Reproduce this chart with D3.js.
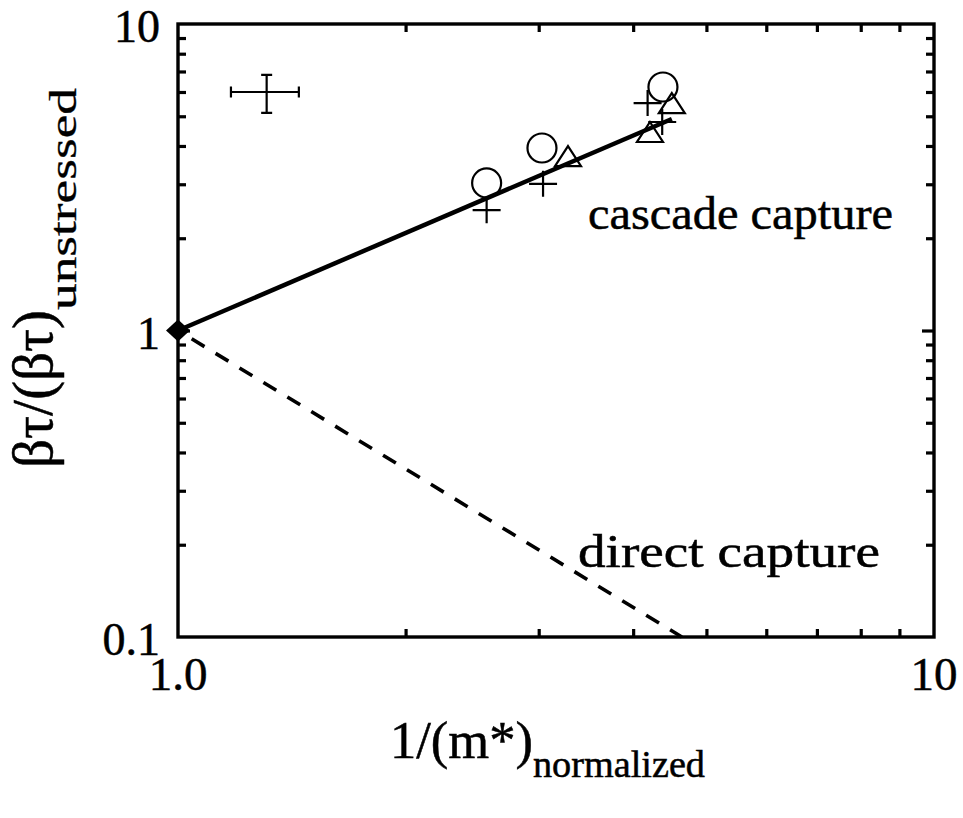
<!DOCTYPE html>
<html>
<head>
<meta charset="utf-8">
<script src="https://cdn.jsdelivr.net/npm/d3@7"></script>
<style>
  html, body { margin: 0; padding: 0; background: #fff; }
  svg { display: block; }
  text { font-family: "Liberation Serif", "Times New Roman", serif; fill: #000; stroke: #000; stroke-width: 0.5; }
</style>
</head>
<body>
<svg id="chart" width="963" height="818"></svg>
<script>
// Measured capture-rate ratios vs. inverse normalized effective mass
const circleX = [2.56, 3.03, 4.38];
const circleY = [3.03, 3.94, 6.23];
const plusX = [2.56, 3.04, 4.18, 4.37];
const plusY = [2.47, 3.01, 5.52, 4.79];
const triX = [3.28, 4.21, 4.50];
const triY = [3.68, 4.41, 5.48];

// Unstressed reference point
const refX = [1.0];
const refY = [1.0];

// Model lines
const cascadeX = [1.0, 4.5];
const cascadeY = [1.0, 4.9];
const directX = [1.0, 4.64];
const directY = [1.0, 0.1];

// Typical uncertainty
const errX = [1.31], errXLo = [1.175], errXHi = [1.445];
const errY = [6.0], errYLo = [5.13], errYHi = [6.82];

// Axes
const xDomain = [1, 10];
const yDomain = [0.1, 10];
const xTickValues = [1, 10];
const xTickLabels = ["1.0", "10"];
const yTickValues = [0.1, 1, 10];
const yTickLabels = ["0.1", "1", "10"];
const xMinor = [2, 3, 4, 5, 6, 7, 8, 9];
const yMinor = [0.2, 0.3, 0.4, 0.5, 0.6, 0.7, 0.8, 0.9, 2, 3, 4, 5, 6, 7, 8, 9];

const margin = { left: 178, top: 24 };
const W = 756, H = 613;

const svg = d3.select("#chart");
const g = svg.append("g").attr("transform", `translate(${margin.left},${margin.top})`);

const x = d3.scaleLog().domain(xDomain).range([0, W]);
const y = d3.scaleLog().domain(yDomain).range([H, 0]);

// Inward ticks on all four sides
const minorLen = 8, majorLen = 12;
const axisStyle = sel => {
  sel.select(".domain").remove();
  sel.selectAll(".tick line").attr("stroke", "#000").attr("stroke-width", 3.2);
  sel.selectAll(".tick text").remove();
};
g.append("g").attr("transform", `translate(0,${H})`)
  .call(d3.axisBottom(x).tickValues(xMinor).tickSizeInner(-minorLen).tickSizeOuter(0)).call(axisStyle);
g.append("g")
  .call(d3.axisTop(x).tickValues(xMinor).tickSizeInner(-minorLen).tickSizeOuter(0)).call(axisStyle);
g.append("g")
  .call(d3.axisLeft(y).tickValues(yMinor).tickSizeInner(-minorLen).tickSizeOuter(0)).call(axisStyle);
g.append("g").attr("transform", `translate(${W},0)`)
  .call(d3.axisRight(y).tickValues(yMinor).tickSizeInner(-minorLen).tickSizeOuter(0)).call(axisStyle);
g.append("g")
  .call(d3.axisLeft(y).tickValues([1]).tickSizeInner(-majorLen).tickSizeOuter(0)).call(axisStyle);
g.append("g").attr("transform", `translate(${W},0)`)
  .call(d3.axisRight(y).tickValues([1]).tickSizeInner(-majorLen).tickSizeOuter(0)).call(axisStyle);

// Frame
g.append("rect").attr("x", 0).attr("y", 0).attr("width", W).attr("height", H)
  .attr("fill", "none").attr("stroke", "#000").attr("stroke-width", 3.4);

// Tick labels
g.selectAll(".ylab").data(yTickValues).enter().append("text")
  .attr("class", "ylab")
  .attr("x", -18).attr("y", d => y(d)).attr("dy", "0.4em")
  .attr("text-anchor", "end").attr("font-size", 46)
  .text((d, i) => yTickLabels[i]);
g.selectAll(".xlab").data(xTickValues).enter().append("text")
  .attr("class", "xlab")
  .attr("x", d => x(d)).attr("y", H + 53)
  .attr("text-anchor", "middle").attr("font-size", 47)
  .text((d, i) => xTickLabels[i]);

// Model lines
const line = d3.line().x(d => x(d[0])).y(d => y(d[1]));
g.append("path").datum(d3.zip(cascadeX, cascadeY))
  .attr("d", line).attr("fill", "none").attr("stroke", "#000").attr("stroke-width", 4.5);
g.append("path").datum(d3.zip(directX, directY))
  .attr("d", line).attr("fill", "none").attr("stroke", "#000").attr("stroke-width", 3.6)
  .attr("stroke-dasharray", "15,13").attr("stroke-dashoffset", -16);

// Reference diamond
g.selectAll(".ref").data(d3.zip(refX, refY)).enter().append("path")
  .attr("transform", d => `translate(${x(d[0])},${y(d[1])})`)
  .attr("d", "M0,-11L12,0L0,11L-12,0Z").attr("fill", "#000");

// Markers
const mk = { fill: "none", stroke: "#000", "stroke-width": 2.2 };
const applyMk = sel => { for (const k in mk) sel.attr(k, mk[k]); };

g.selectAll(".circ").data(d3.zip(circleX, circleY)).enter().append("circle")
  .attr("cx", d => x(d[0])).attr("cy", d => y(d[1])).attr("r", 14.5).call(applyMk);

g.selectAll(".plus").data(d3.zip(plusX, plusY)).enter().append("path")
  .attr("transform", d => `translate(${x(d[0])},${y(d[1])})`)
  .attr("d", "M-14,0H14M0,-13V13").call(applyMk);

g.selectAll(".tri").data(d3.zip(triX, triY)).enter().append("path")
  .attr("transform", d => `translate(${x(d[0])},${y(d[1])})`)
  .attr("d", "M0,-11L13,9L-13,9Z").call(applyMk).attr("stroke-linejoin", "miter");

// Error-bar indicator
const eb = g.selectAll(".err").data(d3.range(errX.length)).enter().append("g");
eb.append("path").attr("d", i => {
  const cx = x(errX[i]), cy = y(errY[i]);
  const x0 = x(errXLo[i]), x1 = x(errXHi[i]);
  const y0 = y(errYLo[i]), y1 = y(errYHi[i]);
  const c = 5.5;
  return `M${x0},${cy}H${x1}M${x0},${cy - c}V${cy + c}M${x1},${cy - c}V${cy + c}` +
         `M${cx},${y0}V${y1}M${cx - c},${y0}H${cx + c}M${cx - c},${y1}H${cx + c}`;
}).attr("fill", "none").attr("stroke", "#000").attr("stroke-width", 2.2);

// Annotations
g.append("text").attr("x", 410).attr("y", 205).attr("font-size", 46)
  .attr("textLength", 305).attr("lengthAdjust", "spacingAndGlyphs")
  .text("cascade capture");
g.append("text").attr("x", 400).attr("y", 543).attr("font-size", 46)
  .attr("textLength", 302).attr("lengthAdjust", "spacingAndGlyphs")
  .text("direct capture");

// Axis titles
const xt = svg.append("text").attr("x", 390).attr("y", 758).attr("font-size", 52);
xt.append("tspan").attr("textLength", 143).attr("lengthAdjust", "spacingAndGlyphs").text("1/(m*)");
xt.append("tspan").attr("font-size", 37).attr("dy", 19)
  .attr("textLength", 172).attr("lengthAdjust", "spacingAndGlyphs").text("normalized");

const yt = svg.append("text").attr("transform", "translate(52,468) rotate(-90)").attr("font-size", 56);
yt.append("tspan").attr("textLength", 158).attr("lengthAdjust", "spacingAndGlyphs").text("βτ/(βτ)");
yt.append("tspan").attr("font-size", 38).attr("dy", 24).style("stroke-width", 0.3)
  .attr("textLength", 222).attr("lengthAdjust", "spacingAndGlyphs").text("unstressed");
</script>
</body>
</html>
